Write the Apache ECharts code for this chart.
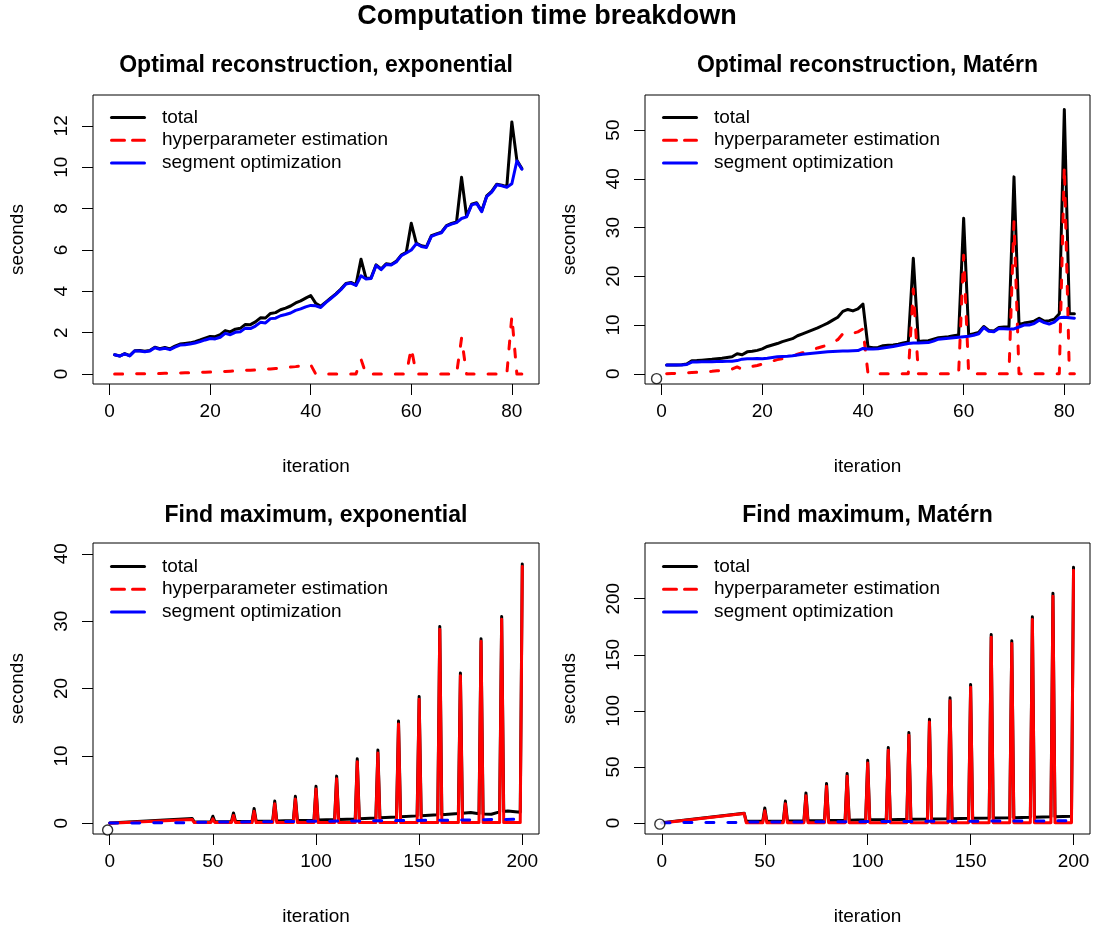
<!DOCTYPE html>
<html>
<head>
<meta charset="utf-8">
<title>Computation time breakdown</title>
<script src="https://cdn.jsdelivr.net/npm/echarts@6.0.0/dist/echarts.min.js"></script>
<style>
  html, body { margin: 0; padding: 0; background: #fff; }
  #chart { width: 1094px; height: 930px; }
</style>
</head>
<body>
<div id="chart"></div>
<script>
// ---- Optimal reconstruction: one value per iteration, iterations 1..82 ----
const recExpTotal = [
  0.93,0.87,0.99,0.89,1.13,1.14,1.10,1.14,1.30,1.23,
  1.29,1.22,1.35,1.45,1.48,1.51,1.57,1.65,1.74,1.82,
  1.81,1.90,2.10,2.04,2.17,2.21,2.40,2.39,2.52,2.72,
  2.71,2.93,2.97,3.11,3.19,3.29,3.44,3.54,3.67,3.80,
  3.42,3.28,3.48,3.68,3.88,4.11,4.38,4.43,4.31,5.55,
  4.63,4.65,5.28,5.08,5.33,5.30,5.45,5.75,5.88,7.29,
  6.33,6.20,6.15,6.69,6.78,6.86,7.18,7.28,7.35,9.51,
  7.63,8.21,8.28,7.88,8.61,8.83,9.18,9.13,9.06,12.19,
  10.33,9.93];
const recExpHyper = [
  0.00,0.00,0.01,0.01,0.01,0.02,0.02,0.02,0.03,0.03,
  0.04,0.04,0.05,0.05,0.06,0.06,0.07,0.08,0.09,0.10,
  0.11,0.12,0.13,0.14,0.15,0.16,0.18,0.19,0.20,0.22,
  0.24,0.25,0.27,0.29,0.31,0.34,0.36,0.39,0.42,0.45,
  0,0,0,0,0,0,0,0,0,0.72,
  0,0,0,0,0,0,0,0,0,1.25,
  0,0,0,0,0,0,0,0,0,1.74,
  0,0,0,0,0,0,0,0,0,2.80,
  0,0];
const recExpSegment = [
  0.93,0.87,0.98,0.88,1.12,1.12,1.08,1.12,1.27,1.20,
  1.25,1.18,1.30,1.40,1.42,1.45,1.50,1.57,1.65,1.72,
  1.70,1.78,1.97,1.90,2.02,2.05,2.22,2.20,2.32,2.50,
  2.47,2.68,2.70,2.82,2.88,2.95,3.08,3.15,3.25,3.32,
  3.30,3.22,3.45,3.65,3.85,4.08,4.35,4.40,4.28,4.75,
  4.60,4.62,5.25,5.05,5.30,5.27,5.42,5.72,5.85,6.00,
  6.30,6.17,6.12,6.66,6.75,6.83,7.15,7.25,7.32,7.52,
  7.60,8.18,8.25,7.85,8.58,8.80,9.15,9.10,9.03,9.20,
  10.30,9.90];

const recMatTotal = [
  1.80,1.80,1.80,1.85,2.00,2.66,2.70,2.80,2.90,2.98,
  3.10,3.20,3.35,3.50,4.10,3.90,4.50,4.60,4.80,5.10,
  5.60,5.90,6.20,6.60,6.90,7.20,7.80,8.20,8.60,9.00,
  9.40,9.90,10.40,11.00,11.60,12.80,13.20,12.90,13.30,14.30,
  5.50,5.35,5.40,5.75,5.85,5.90,6.05,6.30,6.50,23.70,
  6.60,6.70,6.80,7.10,7.40,7.50,7.60,7.80,7.95,31.90,
  7.95,8.20,8.50,9.70,8.90,8.80,9.50,9.60,9.65,40.40,
  10.10,10.40,10.60,10.80,11.40,10.80,10.90,11.20,12.30,54.20,
  12.30,12.30];
const recMatHyper = [
  0.00,0.05,0.10,0.15,0.20,0.25,0.30,0.35,0.45,0.50,
  0.60,0.70,0.80,0.95,1.40,0.90,1.30,1.50,1.70,2.00,
  2.40,2.60,2.90,3.10,3.40,3.60,4.00,4.30,4.60,4.90,
  5.30,5.60,5.90,6.40,7.00,8.20,8.60,8.30,8.60,9.20,
  0,0,0,0,0,0,0,0,0,17.40,
  0,0,0,0,0,0,0,0,0,24.30,
  0,0,0,0,0,0,0,0,0,31.20,
  0,0,0,0,0,0,0,0,0,42.60,
  0,0];
const recMatSegment = [
  1.80,1.80,1.78,1.80,1.90,2.40,2.42,2.45,2.45,2.48,
  2.50,2.52,2.55,2.55,2.70,3.00,3.10,3.08,3.12,3.10,
  3.20,3.35,3.50,3.55,3.60,3.70,3.85,4.00,4.10,4.20,
  4.30,4.40,4.50,4.55,4.60,4.65,4.65,4.70,4.75,5.20,
  5.10,5.10,5.15,5.30,5.45,5.60,5.80,6.00,6.20,6.30,
  6.30,6.35,6.40,6.70,7.10,7.20,7.30,7.40,7.50,7.60,
  7.70,7.90,8.20,9.50,8.70,8.60,9.30,9.25,9.20,9.20,
  9.60,10.00,10.00,10.30,11.00,10.50,10.20,10.60,11.50,11.60,
  11.50,11.40];

// ---- Find maximum: [iteration, seconds] vertices, iterations 0..200 ----
const findExpTotal = [
  [0,0.05],[40,0.70],[41,0.20],
  [49,0.22],[50,1.04],[51,0.22],
  [59,0.25],[60,1.54],[61,0.25],
  [69,0.30],[70,2.18],[71,0.30],
  [79,0.35],[80,3.30],[81,0.35],
  [89,0.40],[90,4.00],[91,0.40],
  [99,0.45],[100,5.50],[101,0.47],
  [109,0.55],[110,7.00],[111,0.57],
  [119,0.65],[120,9.57],[121,0.68],
  [129,0.80],[130,10.86],[131,0.82],
  [139,0.95],[140,15.17],[141,0.97],
  [149,1.10],[150,18.80],[151,1.12],
  [159,1.25],[160,29.20],[161,1.28],
  [169,1.45],[170,22.30],[171,1.50],[175,1.59],
  [179,1.40],[180,27.40],[181,1.38],[185,1.34],
  [189,1.70],[190,30.70],[191,1.75],[193,1.83],
  [199,1.65],[200,38.50]];
const findExpHyper = [
  [0,0.00],[40,0.55],[41,0.10],
  [49,0.10],[50,0.65],[51,0.10],
  [59,0.10],[60,1.15],[61,0.10],
  [69,0.10],[70,1.80],[71,0.10],
  [79,0.10],[80,2.90],[81,0.10],
  [89,0.10],[90,3.60],[91,0.10],
  [99,0.10],[100,5.10],[101,0.10],
  [109,0.10],[110,6.60],[111,0.10],
  [119,0.10],[120,9.15],[121,0.10],
  [129,0.10],[130,10.45],[131,0.10],
  [139,0.10],[140,14.75],[141,0.10],
  [149,0.10],[150,18.40],[151,0.10],
  [159,0.10],[160,28.80],[161,0.10],
  [169,0.10],[170,21.90],[171,0.10],
  [179,0.10],[180,27.00],[181,0.10],
  [189,0.10],[190,30.30],[191,0.10],
  [199,0.10],[200,38.10]];
const findExpSegment = [
  [0,0.05],[40,0.08],[41,0.15],[80,0.25],[120,0.35],[160,0.45],[200,0.60]];

const findMatTotal = [
  [0,0.30],[40,8.80],[41,1.50],
  [49,1.60],[50,13.40],[51,1.60],
  [59,1.80],[60,19.60],[61,1.80],
  [69,2.00],[70,26.80],[71,2.00],
  [79,2.20],[80,35.20],[81,2.20],
  [89,2.50],[90,44.10],[91,2.50],
  [99,2.80],[100,56.00],[101,2.80],
  [109,3.00],[110,67.30],[111,3.00],
  [119,3.30],[120,80.70],[121,3.30],
  [129,3.60],[130,92.60],[131,3.60],
  [139,3.90],[140,111.60],[141,3.90],
  [149,4.20],[150,123.50],[151,4.20],
  [159,4.50],[160,168.20],[161,4.50],
  [169,4.80],[170,162.50],[171,4.80],
  [179,5.10],[180,184.00],[181,5.10],
  [189,5.50],[190,204.80],[191,5.50],
  [199,6.00],[200,228.00]];
const findMatHyper = [
  [0,0.00],[40,8.40],[41,0.30],
  [49,0.30],[50,10.90],[51,0.30],
  [59,0.30],[60,17.10],[61,0.30],
  [69,0.30],[70,24.30],[71,0.30],
  [79,0.30],[80,32.70],[81,0.30],
  [89,0.30],[90,41.60],[91,0.30],
  [99,0.30],[100,53.50],[101,0.30],
  [109,0.30],[110,64.80],[111,0.30],
  [119,0.30],[120,78.20],[121,0.30],
  [129,0.30],[130,90.10],[131,0.30],
  [139,0.30],[140,109.10],[141,0.30],
  [149,0.30],[150,121.00],[151,0.30],
  [159,0.30],[160,165.70],[161,0.30],
  [169,0.30],[170,160.00],[171,0.30],
  [179,0.30],[180,181.50],[181,0.30],
  [189,0.30],[190,202.30],[191,0.30],
  [199,0.30],[200,225.50]];
const findMatSegment = [
  [0,0.30],[40,0.50],[41,0.80],[80,1.10],[120,1.40],[160,1.70],[200,2.00]];

// reference point drawn as an open circle in three of the panels
const originMarker = [[-1, -1]];

// ---- tick labels ----
const recXTicks = [0, 20, 40, 60, 80];
const findXTicks = [0, 50, 100, 150, 200];
const recExpYTicks = [0, 2, 4, 6, 8, 10, 12];
const recMatYTicks = [0, 10, 20, 30, 40, 50];
const findExpYTicks = [0, 10, 20, 30, 40];
const findMatYTicks = [0, 50, 100, 150, 200];

const seriesNames = ['total', 'hyperparameter estimation', 'segment optimization'];
const panelTitles = [
  'Optimal reconstruction, exponential',
  'Optimal reconstruction, Matérn',
  'Find maximum, exponential',
  'Find maximum, Matérn'
];
const mainTitle = 'Computation time breakdown';

// ---- layout ----
const FONT = "'Liberation Sans', Arial, Helvetica, sans-serif";
const grids = [
  { left: 93,  top: 95,  width: 446, height: 289 },
  { left: 645, top: 95,  width: 445, height: 289 },
  { left: 93,  top: 543, width: 446, height: 291 },
  { left: 645, top: 543, width: 445, height: 291 }
];
const xRanges = [[-3.3, 85.4], [-3.3, 85.1], [-8.1, 208.1], [-8.2, 208.0]];
const yRanges = [[-0.48, 13.49], [-2.1, 57.2], [-1.59, 41.6], [-9.8, 249.7]];
const xTicks = [recXTicks, recXTicks, findXTicks, findXTicks];
const yTicks = [recExpYTicks, recMatYTicks, findExpYTicks, findMatYTicks];

const byIteration = arr => arr.map((v, i) => [i + 1, v]);

const BLACK = '#000000', RED = '#ff0000', BLUE = '#0000ff';
const DASH = [8, 14];
const COLORS = [BLACK, RED, BLUE];

function lineSeries(name, idx, data, color, dashed, z) {
  return {
    name: name,
    type: 'line',
    xAxisIndex: idx,
    yAxisIndex: idx,
    data: data,
    symbol: 'none',
    showSymbol: false,
    silent: true,
    animation: false,
    z: z,
    lineStyle: {
      color: color,
      width: 3,
      type: dashed ? DASH : 'solid',
      cap: 'round',
      join: 'round'
    },
    itemStyle: { color: color },
    emphasis: { disabled: true }
  };
}

const series = [
  // top left
  lineSeries(seriesNames[0], 0, byIteration(recExpTotal), BLACK, false, 2),
  lineSeries(seriesNames[1], 0, byIteration(recExpHyper), RED, true, 3),
  lineSeries(seriesNames[2], 0, byIteration(recExpSegment), BLUE, false, 4),
  // top right
  lineSeries(seriesNames[0], 1, byIteration(recMatTotal), BLACK, false, 2),
  lineSeries(seriesNames[1], 1, byIteration(recMatHyper), RED, true, 3),
  lineSeries(seriesNames[2], 1, byIteration(recMatSegment), BLUE, false, 4),
  // bottom left
  lineSeries(seriesNames[0], 2, findExpTotal, BLACK, false, 2),
  lineSeries(seriesNames[1], 2, findExpHyper, RED, false, 3),
  lineSeries(seriesNames[2], 2, findExpSegment, BLUE, true, 4),
  // bottom right
  lineSeries(seriesNames[0], 3, findMatTotal, BLACK, false, 2),
  lineSeries(seriesNames[1], 3, findMatHyper, RED, false, 3),
  lineSeries(seriesNames[2], 3, findMatSegment, BLUE, true, 4)
];

[1, 2, 3].forEach(idx => {
  series.push({
    type: 'scatter',
    xAxisIndex: idx,
    yAxisIndex: idx,
    data: originMarker,
    symbol: 'circle',
    symbolSize: 10,
    silent: true,
    animation: false,
    z: 5,
    itemStyle: { color: '#ffffff', borderColor: '#000000', borderWidth: 1.4 }
  });
});

const xAxis = grids.map((g, i) => ({
  type: 'value',
  gridIndex: i,
  min: xRanges[i][0],
  max: xRanges[i][1],
  name: 'iteration',
  nameLocation: 'middle',
  nameGap: 73,
  nameTextStyle: { fontFamily: FONT, fontSize: 19, color: '#000' },
  axisLine: { show: false, onZero: false },
  splitLine: { show: false },
  axisTick: {
    show: true, inside: false, length: 11,
    customValues: xTicks[i],
    lineStyle: { color: '#000', width: 1 }
  },
  axisLabel: {
    show: true, margin: 18,
    customValues: xTicks[i],
    fontFamily: FONT, fontSize: 19, color: '#000'
  }
}));

const yAxis = grids.map((g, i) => ({
  type: 'value',
  gridIndex: i,
  min: yRanges[i][0],
  max: yRanges[i][1],
  name: 'seconds',
  nameLocation: 'middle',
  nameGap: 66,
  nameTextStyle: { fontFamily: FONT, fontSize: 19, color: '#000' },
  axisLine: { show: false, onZero: false },
  splitLine: { show: false },
  axisTick: {
    show: true, inside: false, length: 11,
    customValues: yTicks[i],
    lineStyle: { color: '#000', width: 1 }
  },
  axisLabel: {
    show: true, margin: 22, rotate: 90,
    customValues: yTicks[i],
    fontFamily: FONT, fontSize: 19, color: '#000'
  }
}));

// Legend keys: a short line sample followed by the series name, per panel
const legendAnchors = [
  { x: 110, y: 117.5 },
  { x: 662, y: 117.5 },
  { x: 110, y: 566.5 },
  { x: 662, y: 566.5 }
];
const legendStyles = [
  { dash: null },
  { dash: [13, 8] },
  { dash: null }
];
const ROW = 22.7;

const graphic = [
  {
    type: 'text', x: 547, y: 17,
    style: {
      text: mainTitle, fontFamily: FONT, fontSize: 27, fontWeight: 'bold',
      fill: '#000', align: 'center', verticalAlign: 'middle'
    }
  }
];
grids.forEach((g, i) => {
  graphic.push({
    type: 'text',
    x: g.left + g.width / 2,
    y: g.top - (i < 2 ? 29 : 27),
    style: {
      text: panelTitles[i], fontFamily: FONT, fontSize: 23, fontWeight: 'bold',
      fill: '#000', align: 'center', verticalAlign: 'middle'
    }
  });
  const a = legendAnchors[i];
  seriesNames.forEach((name, k) => {
    const y = a.y + k * ROW;
    graphic.push({
      type: 'line',
      shape: { x1: a.x + 1.5, y1: y, x2: a.x + 34.5, y2: y },
      style: {
        stroke: COLORS[k], lineWidth: 3, lineCap: 'round',
        lineDash: legendStyles[k].dash
      },
      silent: true
    });
    graphic.push({
      type: 'text',
      x: a.x + 52, y: y,
      style: {
        text: name, fontFamily: FONT, fontSize: 19, fill: '#000',
        align: 'left', verticalAlign: 'middle'
      },
      silent: true
    });
  });
});

const chart = echarts.init(document.getElementById('chart'), null, { renderer: 'canvas' });
chart.setOption({
  backgroundColor: '#ffffff',
  animation: false,
  grid: grids.map(g => Object.assign({
    show: true, borderColor: '#000', borderWidth: 1, backgroundColor: 'transparent',
    containLabel: false
  }, g)),
  xAxis: xAxis,
  yAxis: yAxis,
  graphic: graphic,
  series: series
});
</script>
</body>
</html>
